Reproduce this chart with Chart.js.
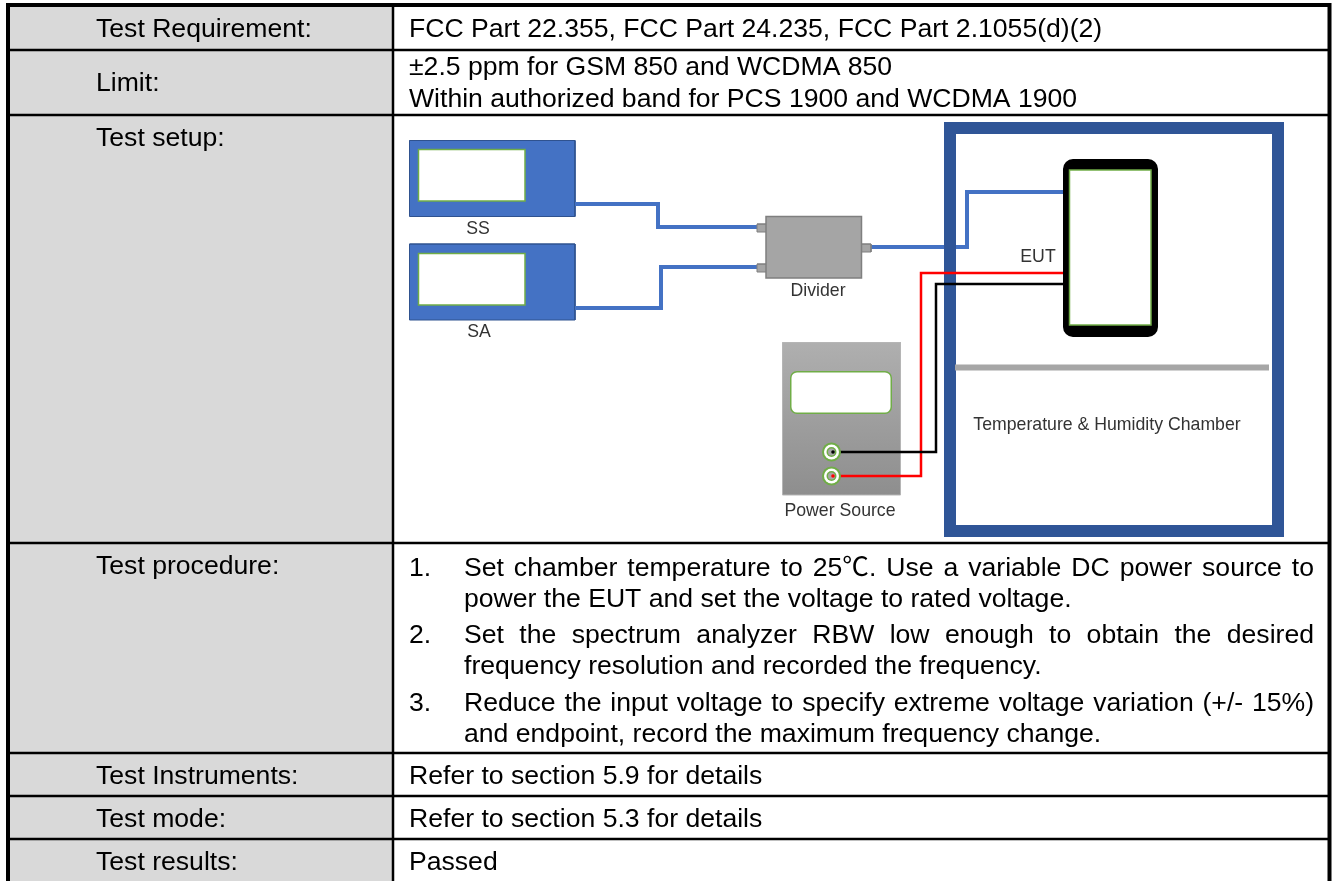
<!DOCTYPE html>
<html>
<head>
<meta charset="utf-8">
<title>Test setup table</title>
<script src="https://cdn.jsdelivr.net/npm/chart.js@4/dist/chart.umd.min.js"></script>
<style>
  html, body { margin: 0; padding: 0; background: #fff; }
  canvas { display: block; }
</style>
</head>
<body>
<canvas id="setupChart" width="1333" height="881"></canvas>
<script>
// Textos de la tabla
const rowLabels = ['Test Requirement:', 'Limit:', 'Test setup:', 'Test procedure:', 'Test Instruments:', 'Test mode:', 'Test results:'];
const rowLabelY = [37, 91, 146, 574, 784, 827, 870];
const valueLines = [
  'FCC Part 22.355, FCC Part 24.235, FCC Part 2.1055(d)(2)',
  '±2.5 ppm for GSM 850 and WCDMA 850',
  'Within authorized band for PCS 1900 and WCDMA 1900',
  'Refer to section 5.9 for details',
  'Refer to section 5.3 for details',
  'Passed'
];
const valueLineY = [37, 75, 107, 784, 827, 870];
const stepNumbers = ['1.', '2.', '3.'];
const stepNumberY = [576, 643, 711];
const stepLines = [
  'Set chamber temperature to 25℃. Use a variable DC power source to',
  'power the EUT and set the voltage to rated voltage.',
  'Set the spectrum analyzer RBW low enough to obtain the desired',
  'frequency resolution and recorded the frequency.',
  'Reduce the input voltage to specify extreme voltage variation (+/- 15%)',
  'and endpoint, record the maximum frequency change.'
];
const stepLineY = [576, 607, 643, 674, 711, 742];
const stepJustified = [true, false, true, false, true, false];
const diagramLabels = ['SS', 'SA', 'Divider', 'EUT', 'Power Source', 'Temperature & Humidity Chamber'];
const diagramLabelX = [478, 479, 818, 1038, 840, 1107];
const diagramLabelY = [234, 337, 296, 262, 516, 430];

// Geometría de la tabla
const rowLines = [5, 50, 115, 543, 753, 796, 839];
const columnLines = [8, 393, 1329.5];

// Cables
const cableSS = [[575, 204], [658, 204], [658, 227], [757, 227]];
const cableSA = [[575, 308], [661, 308], [661, 267], [757, 267]];
const cableEUT = [[871, 247], [967, 247], [967, 192], [1063, 192]];
const wireRed = [[840, 476], [921, 476], [921, 273], [1063, 273]];
const wireBlack = [[840, 452], [936, 452], [936, 284], [1063, 284]];
const terminals = [[831.5, 452], [831.5, 476]];

// El último tramo repite el primero para que la esquina inicial quede unida
const rect = (x0, y0, x1, y1) => [[x0, y0], [x1, y0], [x1, y1], [x0, y1], [x0, y0], [x1, y0]];
const xy = (pts) => pts.map(([x, y]) => ({ x, y }));

const datasets = [];

// Polígono relleno
const addShape = (pts, fillColor, strokeColor, strokeWidth, joinStyle) => {
  datasets.push({
    data: xy(pts),
    showLine: true,
    fill: 'shape',
    backgroundColor: fillColor,
    borderColor: strokeColor || fillColor,
    borderWidth: strokeWidth || 0,
    borderJoinStyle: joinStyle || 'miter',
    pointRadius: 0,
    tension: 0,
    clip: false,
  });
};

// Línea sin relleno
const addLine = (pts, color, width) => {
  datasets.push({
    data: xy(pts),
    showLine: true,
    fill: false,
    borderColor: color,
    borderWidth: width,
    borderJoinStyle: 'miter',
    pointRadius: 0,
    tension: 0,
    clip: false,
  });
};

// Puntos de los bornes
const addDots = (pts, radius, color) => {
  datasets.push({
    data: xy(pts),
    showLine: false,
    pointRadius: radius,
    pointBackgroundColor: color,
    pointBorderWidth: 0,
    clip: false,
  });
};

// Fondo de la columna izquierda
addShape(rect(columnLines[0], rowLines[0], columnLines[1], 881), '#d9d9d9');

// Instrumentos
addShape(rect(409.5, 140.5, 575, 216.5), '#4472c4', '#2f528f', 1);
addShape(rect(418.5, 149.5, 525, 201), '#ffffff', '#70ad47', 1.5);
addShape(rect(409.5, 244, 575, 320), '#4472c4', '#2f528f', 1);
addShape(rect(418.5, 253.5, 525, 305), '#ffffff', '#70ad47', 1.5);

// Cables hacia el divisor y la cámara
addLine(cableSS, '#4472c4', 4);
addLine(cableSA, '#4472c4', 4);
addLine(cableEUT, '#4472c4', 4);

// Cámara: la pared tapa el cable azul
addLine(rect(950, 128, 1278, 531), '#2f5597', 12);

// Divisor
addShape(rect(757, 224, 767, 232), '#a5a5a5', '#7f7f7f', 1);
addShape(rect(757, 264, 767, 272), '#a5a5a5', '#7f7f7f', 1);
addShape(rect(861, 244, 871, 252), '#a5a5a5', '#7f7f7f', 1);
addShape(rect(766, 216.5, 861.5, 278), '#a5a5a5', '#7f7f7f', 1.5);

// Estante de la cámara
addShape(rect(955, 364.5, 1269, 370.5), '#a6a6a6');

// Fuente de alimentación
addShape(rect(782.5, 342.5, 900.5, 495), (context) => {
  const { chart } = context;
  if (!chart.chartArea) return '#a0a0a0';
  const yScale = chart.scales.y;
  const grad = chart.ctx.createLinearGradient(0, yScale.getPixelForValue(342), 0, yScale.getPixelForValue(495));
  grad.addColorStop(0, '#afafaf');
  grad.addColorStop(1, '#8e8e8e');
  return grad;
}, '#b5b5b5', 1);
addShape(rect(797, 378, 885, 407), '#70ad47', '#70ad47', 14, 'round');
addShape(rect(797, 378, 885, 407), '#ffffff', '#ffffff', 11, 'round');

// Cables de alimentación
addLine(wireRed, '#ff0000', 2.5);
addLine(wireBlack, '#000000', 2.5);
addDots(terminals, 9.5, '#70ad47');
addDots(terminals, 7.5, '#ffffff');
addDots(terminals, 5, '#70ad47');
addDots(terminals, 3.5, '#a6a6a6');
addDots([[833, 452]], 1.8, '#000000');
addDots([[833, 476]], 1.8, '#ff0000');

// Equipo bajo prueba
addShape(rect(1073, 169, 1148, 327), '#000000', '#000000', 20, 'round');
addShape(rect(1069.5, 170, 1151, 325), '#ffffff', '#70ad47', 1.5);

// Retícula de la tabla
rowLines.forEach((y, i) => {
  addLine([[columnLines[0], y], [columnLines[2], y]], '#000000', i === 0 ? 4 : 2.5);
});
addLine([[columnLines[1], rowLines[0]], [columnLines[1], 881]], '#000000', 2.5);
addLine([[columnLines[0], rowLines[0] - 2], [columnLines[0], 881]], '#000000', 4);
addLine([[columnLines[2], rowLines[0] - 2], [columnLines[2], 881]], '#000000', 4);

// El primer dataset va debajo de los demás
datasets.forEach((d, i) => { d.order = datasets.length - i; });

const FONT_BODY = '26.6px "Liberation Sans", "Noto Sans CJK SC", sans-serif';
const FONT_SMALL = '17.7px "Liberation Sans", sans-serif';

// Plugin para dibujar los textos de la tabla
const tableText = {
  id: 'tableText',
  afterDatasetsDraw(chart) {
    const { ctx, scales } = chart;
    const px = (x) => scales.x.getPixelForValue(x);
    const py = (y) => scales.y.getPixelForValue(y);
    ctx.save();
    ctx.textBaseline = 'alphabetic';
    ctx.textAlign = 'left';
    ctx.fillStyle = '#000000';
    ctx.font = FONT_BODY;
    rowLabels.forEach((t, i) => ctx.fillText(t, px(96), py(rowLabelY[i])));
    valueLines.forEach((t, i) => ctx.fillText(t, px(409), py(valueLineY[i])));
    stepNumbers.forEach((t, i) => ctx.fillText(t, px(409), py(stepNumberY[i])));
    stepLines.forEach((t, i) => {
      ctx.wordSpacing = '0px';
      if (stepJustified[i]) {
        const gaps = t.split(' ').length - 1;
        const extra = (px(1314) - px(464) - ctx.measureText(t).width) / gaps;
        ctx.wordSpacing = extra + 'px';
      }
      ctx.fillText(t, px(464), py(stepLineY[i]));
    });
    ctx.wordSpacing = '0px';
    ctx.font = FONT_SMALL;
    ctx.fillStyle = '#333333';
    ctx.textAlign = 'center';
    diagramLabels.forEach((t, i) => ctx.fillText(t, px(diagramLabelX[i]), py(diagramLabelY[i])));
    ctx.restore();
  },
};

const setupChart = new Chart(document.getElementById('setupChart').getContext('2d'), {
  type: 'scatter',
  data: { datasets },
  plugins: [tableText],
  options: {
    responsive: false,
    animation: false,
    layout: { padding: 0, autoPadding: false },
    events: [],
    scales: {
      x: { type: 'linear', min: 0, max: 1333, display: false },
      y: { type: 'linear', min: 0, max: 881, reverse: true, display: false },
    },
    plugins: {
      legend: { display: false },
      tooltip: { enabled: false },
    },
  },
});
</script>
</body>
</html>
